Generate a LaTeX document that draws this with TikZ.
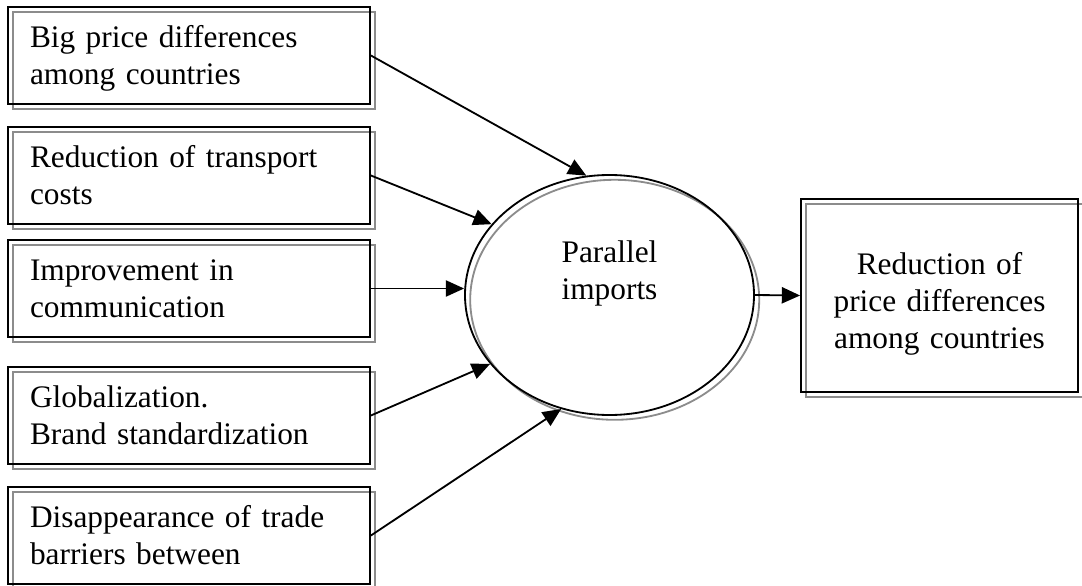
\documentclass[tikz,border=0pt]{standalone}
\usepackage{fontspec}
\setmainfont{Liberation Serif}
\usepackage{tikz}
\usetikzlibrary{shapes.geometric,arrows.meta}
\tikzset{my arrow/.style={
  black,
  line width=1.3pt,
  -{Triangle[length=13pt,width=11.5pt]}
  },
  twin line/.style={
  draw=black,
  line width=1.3pt,
  preaction={draw=black!45,line width=1.3pt,transform canvas={shift={(0.13,-0.12)}}}
  },
  cause box/.style={
  twin line,
  minimum width=9.05cm,
  minimum height=2.425cm,
  text width=7.95cm,
  inner xsep=0.55cm,
  inner ysep=0pt,
  align=left,
  execute at begin node=\rule{0pt}{23.5pt},
  execute at end node=\strut
  }
}

\begin{document}
\begin{tikzpicture}[font=\fontsize{22.3}{26.3}\selectfont]
    \useasboundingbox (0,0) rectangle (27.05,14.625);

    \foreach \y/\t [count=\n] in {13.2375/{Big price differences\\among countries},
                                  10.2375/{Reduction of transport\\costs},
                                  7.4125/{Improvement in\\communication},
                                  4.2375/{Globalization.\\Brand standardization},
                                  1.2375/{Disappearance of trade\\barriers between}}
        \node[cause box] (C\n) at (4.725,\y) {\t};

    \node[twin line,ellipse,minimum width=7.225cm,minimum height=6cm,inner sep=0pt,
          text width=4cm,align=center,
          execute at begin node=\strut,
          execute at end node={\rule[-39pt]{0pt}{39pt}}] (PI) at (15.2375,7.25) {Parallel\\imports};

    \node[twin line,minimum width=6.925cm,minimum height=4.825cm,inner sep=0pt,
          text width=6.8cm,align=center,
          execute at begin node=\rule{0pt}{31.3pt},
          execute at end node=\strut] (R) at (23.4875,7.2375) {Reduction of\\price differences\\among countries};

    \foreach \n/\a in {1/101.5,2/149.4,4/210.6,5/247.9}
        \draw[my arrow] (C\n.east) to (PI.\a);
    \draw[my arrow] (C3.east) to (C3.east -| PI.west);

    \draw[my arrow] (PI.east) to (R.west);
\end{tikzpicture}
\end{document}
